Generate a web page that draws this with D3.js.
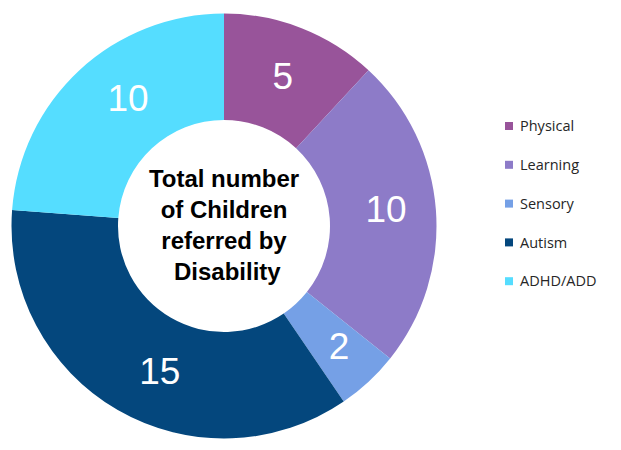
<!DOCTYPE html>
<html>
<head>
<meta charset="utf-8">
<script src="https://cdn.jsdelivr.net/npm/d3@7"></script>
<style>
  html, body { margin: 0; padding: 0; background: #fff; }
  svg { display: block; }
</style>
</head>
<body>
<svg id="chart" width="621" height="450"></svg>
<script>
// Children referred, by type of disability
const categories = ["Physical", "Learning", "Sensory", "Autism", "ADHD/ADD"];
const values = [5, 10, 2, 15, 10];
const colors = ["#98549a", "#8d7bc8", "#75a0e6", "#04477d", "#55ddff"];
const centerLines = ["Total number", "of Children", "referred by", " Disability"];

const svg = d3.select("#chart");
const cx = 224, cy = 226;
const outerR = 212.5, innerR = 106;

const pie = d3.pie().sort(null).value(d => d.value);
const data = categories.map((c, i) => ({ name: c, value: values[i], color: colors[i] }));
const arcs = pie(data);

const arc = d3.arc().innerRadius(innerR).outerRadius(outerR);

// value labels sit near the middle of the ring, nudged a little along it
const labelNudgeDeg = [0, -1.7, -1, -6, 6];
const labelRadius = [161, 163, 166, 158, 160];
function labelPos(d, i) {
  const a = (d.startAngle + d.endAngle) / 2 + labelNudgeDeg[i] * Math.PI / 180;
  const r = labelRadius[i];
  return [Math.sin(a) * r, -Math.cos(a) * r];
}

const g = svg.append("g").attr("transform", `translate(${cx},${cy})`);

g.selectAll("path.slice")
  .data(arcs)
  .join("path")
  .attr("class", "slice")
  .attr("d", arc)
  .attr("fill", d => d.data.color);

g.selectAll("text.val")
  .data(arcs)
  .join("text")
  .attr("class", "val")
  .attr("transform", (d, i) => `translate(${labelPos(d, i)})`)
  .attr("text-anchor", "middle")
  .attr("dy", "0.36em")
  .attr("font-family", "Liberation Sans, Arial, sans-serif")
  .attr("font-size", 37)
  .attr("fill", "#fff")
  .text(d => d.data.value);

// Centre caption
g.selectAll("text.center")
  .data(centerLines)
  .join("text")
  .attr("class", "center")
  .attr("x", 0)
  .attr("y", (d, i) => -39 + i * 31)
  .attr("text-anchor", "middle")
  .attr("font-family", "Liberation Sans, Arial, sans-serif")
  .attr("font-weight", "bold")
  .attr("font-size", 24)
  .attr("fill", "#000")
  .style("white-space", "pre")
  .text(d => d);

// Legend
const legend = svg.append("g").attr("transform", "translate(505,126)");
const item = legend.selectAll("g")
  .data(data)
  .join("g")
  .attr("transform", (d, i) => `translate(0,${i * 38.8})`);

item.append("rect")
  .attr("x", 0).attr("y", -4)
  .attr("width", 8).attr("height", 8)
  .attr("fill", d => d.color);

item.append("text")
  .attr("x", 15)
  .attr("y", 0)
  .attr("dy", "0.36em")
  .attr("font-family", "Open Sans, Lato, sans-serif")
  .attr("font-size", 14.5)
  .attr("fill", "#262626")
  .text(d => d.name);
</script>
</body>
</html>
